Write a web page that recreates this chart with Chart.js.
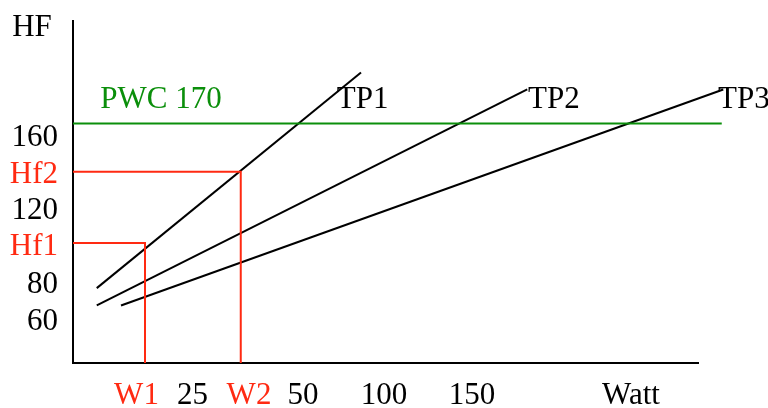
<!DOCTYPE html>
<html>
<head>
<meta charset="utf-8">
<script src="https://cdn.jsdelivr.net/npm/chart.js@4"></script>
<style>
  html, body { margin: 0; padding: 0; background: #fff; }
  #wrap { width: 768px; height: 408px; }
</style>
</head>
<body>
<div id="wrap"><canvas id="pwc"></canvas></div>
<script>
// ── data (x in schematic watt units, y in HF) ─────────────
const tp1X = [9.5, 115.2];
const tp1Y = [77.3, 194.2];
const tp2X = [9.5, 181.7];
const tp2Y = [67.9, 185.0];
const tp3X = [19.2, 260.1];
const tp3Y = [67.9, 185.0];

const pwcLevel = 166.6;
const pwcEndX = 259.5;

const hf1 = 101.7, w1 = 28.8;
const hf2 = 140.4, w2 = 67.1;

const yTickValues = [59, 79, 99.5, 119, 138.5, 159];
const yTickLabels = ['60', '80', 'Hf1', '120', 'Hf2', '160'];
const xTickValues = [25.4, 47.8, 70.4, 92, 124.4, 159.6, 223.2];
const xTickLabels = ['W1', '25', 'W2', '50', '100', '150', 'Watt'];

const textLabels = [
    { text: 'PWC 170', x: 35.2, y: 179.3, color: 'green', align: 'center' },
    { text: 'TP1', x: 105.5, y: 179.3, color: 'black', align: 'left' },
    { text: 'TP2', x: 182, y: 179.3, color: 'black', align: 'left' },
    { text: 'TP3', x: 258, y: 179.3, color: 'black', align: 'left' }
];

const RED = '#ff2a12';
const GREEN = '#0b8f0b';
const FONT = "'Liberation Serif', 'Times New Roman', serif";
const FONT_SIZE = 31;

const pts = (xs, ys) => xs.map((x, i) => ({ x, y: ys[i] }));

function lineSet(data, color, width) {
    return {
        data,
        showLine: true,
        borderColor: color,
        borderWidth: width,
        pointRadius: 0,
        fill: false,
        clip: false
    };
}

// ── text annotations ──────────────────────────────────────
const annotations = {
    id: 'annotations',
    afterDraw(chart) {
        const { ctx, chartArea, scales: { x, y } } = chart;
        ctx.save();
        ctx.font = FONT_SIZE + 'px ' + FONT;
        ctx.textBaseline = 'middle';

        ctx.fillStyle = 'black';
        ctx.textAlign = 'center';
        ctx.fillText('HF', chartArea.left - 41, chartArea.top + 7);

        textLabels.forEach(l => {
            ctx.fillStyle = l.color === 'green' ? GREEN : '#000';
            ctx.textAlign = l.align;
            ctx.fillText(l.text, x.getPixelForValue(l.x), y.getPixelForValue(l.y));
        });
        ctx.restore();
    }
};

new Chart(document.getElementById('pwc'), {
    type: 'scatter',
    data: {
        datasets: [
            lineSet([{ x: 0, y: pwcLevel }, { x: pwcEndX, y: pwcLevel }], GREEN, 2),
            lineSet([{ x: 0, y: hf2 }, { x: w2, y: hf2 }, { x: w2, y: 36.7 }], RED, 2),
            lineSet([{ x: 0, y: hf1 }, { x: w1, y: hf1 }, { x: w1, y: 36.7 }], RED, 2),
            lineSet(pts(tp1X, tp1Y), '#000', 2),
            lineSet(pts(tp2X, tp2Y), '#000', 2),
            lineSet(pts(tp3X, tp3Y), '#000', 2)
        ]
    },
    options: {
        responsive: true,
        maintainAspectRatio: false,
        animation: false,
        events: [],
        layout: { padding: { left: 0, top: 21, right: 70, bottom: 0 } },
        plugins: {
            legend: { display: false },
            tooltip: { enabled: false }
        },
        scales: {
            x: {
                type: 'linear',
                min: 0,
                max: 250,
                afterFit: s => {
                    s.height = 45;
                    s.paddingLeft = 0; s.paddingRight = 0;
                },
                afterBuildTicks: s => { s.ticks = xTickValues.map(v => ({ value: v })); },
                grid: { display: false, drawTicks: false },
                border: { display: true, color: '#000', width: 2 },
                ticks: {
                    autoSkip: false,
                    maxRotation: 0,
                    padding: 14,
                    font: { family: FONT, size: FONT_SIZE },
                    color: ctx => (ctx.index === 0 || ctx.index === 2) ? RED : '#000',
                    callback: (v, i) => xTickLabels[i]
                }
            },
            y: {
                type: 'linear',
                min: 36.7,
                max: 222.1,
                afterFit: s => {
                    s.width = 73;
                    s.paddingTop = 0; s.paddingBottom = 0;
                },
                afterBuildTicks: s => { s.ticks = yTickValues.map(v => ({ value: v })); },
                grid: { display: false, drawTicks: false },
                border: { display: true, color: '#000', width: 2 },
                ticks: {
                    autoSkip: false,
                    padding: 15,
                    font: { family: FONT, size: FONT_SIZE },
                    color: ctx => (ctx.index === 2 || ctx.index === 4) ? RED : '#000',
                    callback: (v, i) => yTickLabels[i]
                }
            }
        }
    },
    plugins: [annotations]
});
</script>
</body>
</html>
